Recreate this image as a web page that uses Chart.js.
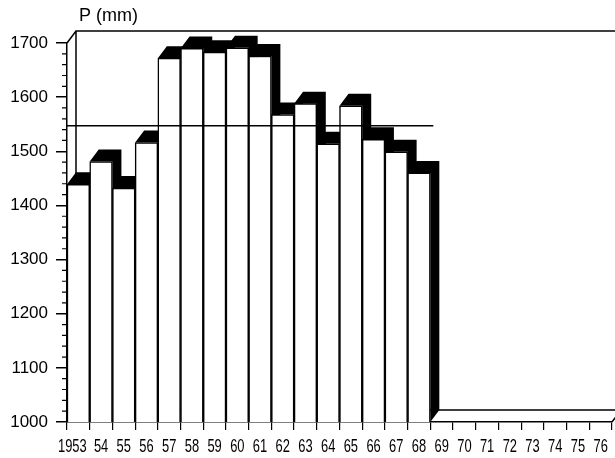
<!DOCTYPE html>
<html>
<head>
<meta charset="utf-8">
<script src="https://cdn.jsdelivr.net/npm/chart.js@4.4.0/dist/chart.umd.min.js"></script>
<style>
  html, body { margin: 0; padding: 0; background: #fff; }
  #wrap { width: 615px; height: 458px; }
</style>
</head>
<body>
<div id="wrap"><canvas id="myChart"></canvas></div>
<script>
// données
const years = ['1953', '54', '55', '56', '57', '58', '59', '60', '61', '62', '63', '64',
  '65', '66', '67', '68', '69', '70', '71', '72', '73', '74', '75', '76'];
const precip = [1439, 1481, 1432, 1516, 1672, 1690, 1683, 1691, 1676, 1568, 1588, 1514,
  1584, 1522, 1499, 1460, null, null, null, null, null, null, null, null];
const meanP = 1547;
const yTicks = [1000, 1100, 1200, 1300, 1400, 1500, 1600, 1700];
const minorStep = 20;

const DX = 9, DY = -12;

// 3D effect: back wall, floor, shadows, mean line, narrow year labels
const box3d = {
  id: 'box3d',
  beforeDatasetsDraw(chart) {
    const { ctx, chartArea: a, scales: { y } } = chart;
    ctx.save();
    ctx.strokeStyle = '#000';
    ctx.lineWidth = 1.5;
    // back wall + floor back edge
    ctx.beginPath();
    ctx.moveTo(a.left, a.top);
    ctx.lineTo(a.left + DX, a.top + DY);
    ctx.lineTo(chart.width + 5, a.top + DY);
    ctx.moveTo(a.left + DX, a.top + DY);
    ctx.lineTo(a.left + DX, a.bottom + DY);
    ctx.lineTo(a.right + DX, a.bottom + DY);
    ctx.lineTo(a.right, a.bottom);
    ctx.stroke();
    // minor ticks
    ctx.lineWidth = 1.2;
    ctx.beginPath();
    for (let v = yTicks[0]; v <= yTicks[yTicks.length - 1]; v += minorStep) {
      if (v % 100 === 0) continue;
      const py = y.getPixelForValue(v);
      ctx.moveTo(a.left - 5, py);
      ctx.lineTo(a.left, py);
    }
    ctx.stroke();
    // shadows
    ctx.fillStyle = '#000';
    chart.getDatasetMeta(0).data.forEach((bar, i) => {
      if (precip[i] == null) return;
      const p = bar.getProps(['x', 'y', 'base', 'width'], true);
      const L = p.x - p.width / 2, R = p.x + p.width / 2;
      const B = Math.min(p.base, a.bottom);
      ctx.beginPath();
      ctx.moveTo(L, p.y);
      ctx.lineTo(L + DX, p.y + DY);
      ctx.lineTo(R + DX, p.y + DY);
      ctx.lineTo(R + DX, B + DY);
      ctx.lineTo(R, B);
      ctx.lineTo(R, p.y);
      ctx.closePath();
      ctx.fill();
    });
    ctx.restore();
  },
  afterDatasetsDraw(chart) {
    const { ctx, chartArea: a, scales: { x, y } } = chart;
    const bars = chart.getDatasetMeta(0).data;
    let last = 0;
    precip.forEach((v, i) => { if (v != null) last = i; });
    const lb = bars[last];
    const right = lb.x + lb.width / 2 + 3;
    const py = y.getPixelForValue(meanP);
    ctx.save();
    ctx.strokeStyle = '#000';
    ctx.lineWidth = 1.5;
    ctx.beginPath();
    ctx.moveTo(a.left, py);
    ctx.lineTo(right, py);
    ctx.stroke();
    ctx.fillStyle = '#000';
    ctx.font = '18px "Liberation Sans", Arial, sans-serif';
    ctx.textBaseline = 'alphabetic';
    ctx.fillText('P (mm)', 79, 21);
    // condensed year labels
    ctx.textAlign = 'center';
    ctx.font = '19px "Liberation Sans", Arial, sans-serif';
    years.forEach((lab, i) => {
      const px = x.getPixelForTick(i) - (i === 0 ? 6 : 0);
      ctx.save();
      ctx.translate(px, 452);
      ctx.scale(0.68, 1);
      ctx.fillText(lab, 0, 0);
      ctx.restore();
    });
    ctx.restore();
  }
};

const ctx1 = document.getElementById('myChart').getContext('2d');
const myChart = new Chart(ctx1, {
  type: 'bar',
  data: {
    labels: years,
    datasets: [{
      label: 'P (mm)',
      data: precip,
      backgroundColor: '#fff',
      borderColor: '#000',
      borderWidth: 1.5,
      barPercentage: 1,
      categoryPercentage: 1
    }]
  },
  options: {
    responsive: true,
    maintainAspectRatio: false,
    animation: false,
    layout: { padding: { top: 43, right: 3, left: 0, bottom: 0 } },
    scales: {
      x: {
        afterFit: (s) => { s.height = 36; },
        grid: {
          offset: true,
          drawOnChartArea: false,
          tickLength: 8,
          color: '#000',
          lineWidth: 1.2
        },
        border: { display: true, color: '#000', width: 1.5 },
        ticks: { display: false, autoSkip: false, maxRotation: 0 }
      },
      y: {
        min: 1000,
        max: 1700,
        afterFit: (s) => { s.width = 67; },
        afterBuildTicks: (s) => { s.ticks = yTicks.map(v => ({ value: v })); },
        grid: {
          drawOnChartArea: false,
          tickLength: 11,
          color: '#000',
          lineWidth: 1.5
        },
        border: { display: true, color: '#000', width: 1.5 },
        ticks: {
          padding: 8,
          color: '#000',
          font: { family: '"Liberation Sans", Arial, sans-serif', size: 17 },
          callback: (v) => String(v)
        }
      }
    },
    plugins: {
      legend: { display: false },
      tooltip: { enabled: false }
    }
  },
  plugins: [box3d]
});
</script>
</body>
</html>
